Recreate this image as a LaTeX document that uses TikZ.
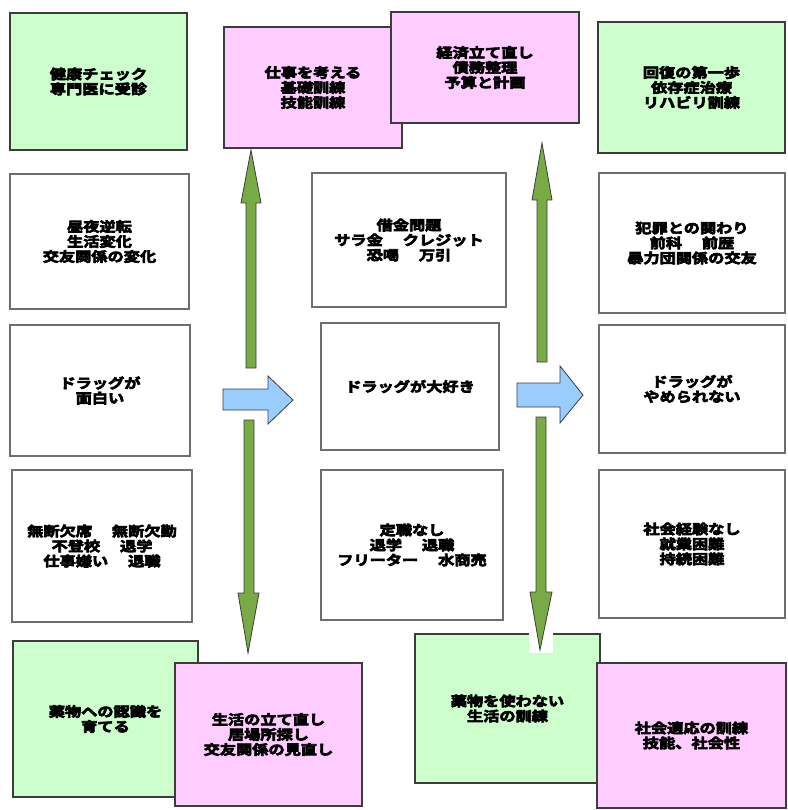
\documentclass[tikz,border=0pt]{standalone}
\usepackage{fontspec}
\newfontfamily\jpfont{Noto Sans CJK JP Bold}[FakeStretch=1.2, FakeBold=5]
\usetikzlibrary{positioning,calc}

\definecolor{greenfill}{RGB}{204,255,204}
\definecolor{pinkfill}{RGB}{255,204,255}
\definecolor{arrowgreen}{RGB}{120,170,70}
\definecolor{arrowblue}{RGB}{153,204,255}
\definecolor{boxline}{RGB}{60,60,60}
\definecolor{whiteline}{RGB}{110,110,110}

\tikzset{
	box/.style={align=center, inner sep=0pt, line width=1.2pt,
		font=\jpfont\fontsize{13.5}{15}\selectfont},
	greenbox/.style={box, draw=boxline, fill=greenfill},
	pinkbox/.style={box, draw=boxline, fill=pinkfill},
	whitebox/.style={box, draw=whiteline, fill=white},
	greenarrow/.style={draw=boxline, fill=arrowgreen, line width=0.8pt, line join=miter},
	bluearrow/.style={draw=boxline, fill=arrowblue, line width=0.8pt, line join=miter}
}

\begin{document}
\begin{tikzpicture}[x=1pt, y=-1pt]
					\useasboundingbox (0,0) rectangle (787,810);
					\fill[white] (0,0) rectangle (787,810);

					% Left column
					\node[greenbox, minimum width=177, minimum height=137] (health) at (98.5,81.5) {健康チェック\\専門医に受診};
					\node[whitebox, minimum width=179, minimum height=135] (nightday) at (99.5,241.5) {昼夜逆転\\生活変化\\交友関係の変化};
					\node[whitebox, minimum width=180, minimum height=131] (fun) at (100,390.5) {ドラッグが\\面白い};
					\node[whitebox, minimum width=180, minimum height=152] (absent) at (102,546) {無断欠席　 無断欠勤\\不登校　 退学\\仕事嫌い　 退職};
					\node[greenbox, minimum width=185, minimum height=156] (aware) at (105.5,719) {薬物への認識を\\育てる};
					\node[pinkbox, minimum width=187, minimum height=143] (lifefix) at (268.5,734.5) {生活の立て直し\\居場所探し\\交友関係の見直し};

					% Middle column
					\node[pinkbox, minimum width=178, minimum height=121] (work) at (313,87.5) {仕事を考える\\基礎訓練\\技能訓練};
					\node[pinkbox, minimum width=188, minimum height=111] (money) at (485,67.5) {経済立て直し\\債務整理\\予算と計画};
					\node[whitebox, minimum width=194, minimum height=134] (debt) at (409,240) {借金問題\\サラ金　 クレジット\\恐喝　 万引};
					\node[whitebox, minimum width=178, minimum height=127] (love) at (410,386.5) {ドラッグが大好き};
					\node[whitebox, minimum width=182, minimum height=150] (nojob) at (412,545) {定職なし\\退学　 退職\\フリーター　 水商売};
					\node[greenbox, minimum width=185, minimum height=149] (nodrug) at (507.5,708.5) {薬物を使わない\\生活の訓練};
					\node[pinkbox, minimum width=189, minimum height=145] (social) at (691.5,735.5) {社会適応の訓練\\技能、社会性};

					% Right column
					\node[greenbox, minimum width=187, minimum height=131] (recover) at (691.5,87.5) {回復の第一歩\\依存症治療\\リハビリ訓練};
					\node[whitebox, minimum width=186, minimum height=140] (crime) at (692,243) {犯罪との関わり\\前科　 前歴\\暴力団関係の交友};
					\node[whitebox, minimum width=186, minimum height=128] (quit) at (692,389) {ドラッグが\\やめられない};
					\node[whitebox, minimum width=186, minimum height=148] (noexp) at (692,544) {社会経験なし\\就業困難\\持続困難};

					% Green arrows
					\draw[greenarrow] (246,368) -- (246,203) -- (241,203) -- (251,150)
						-- (261,203) -- (256,203) -- (256,368) -- cycle;
					\draw[greenarrow] (244,420) -- (244,593) -- (238,593) -- (248,653)
						-- (259,593) -- (254,593) -- (254,420) -- cycle;
					\draw[greenarrow] (537,362) -- (537,200) -- (532,200) -- (542,143)
						-- (552,200) -- (547,200) -- (547,362) -- cycle;
					\fill[white] (529,633) rectangle (553,653);
					\draw[greenarrow] (536,417) -- (536,592) -- (530,592) -- (540,650)
						-- (552,592) -- (546,592) -- (546,417) -- cycle;

					% Blue arrows
					\draw[bluearrow] (223,389) -- (268,389) -- (268,376) -- (293,400)
						-- (268,424) -- (268,410) -- (223,410) -- cycle;
					\draw[bluearrow] (517,383) -- (560,383) -- (560,366) -- (583,395)
						-- (560,423) -- (560,407) -- (517,407) -- cycle;
\end{tikzpicture}
\end{document}
